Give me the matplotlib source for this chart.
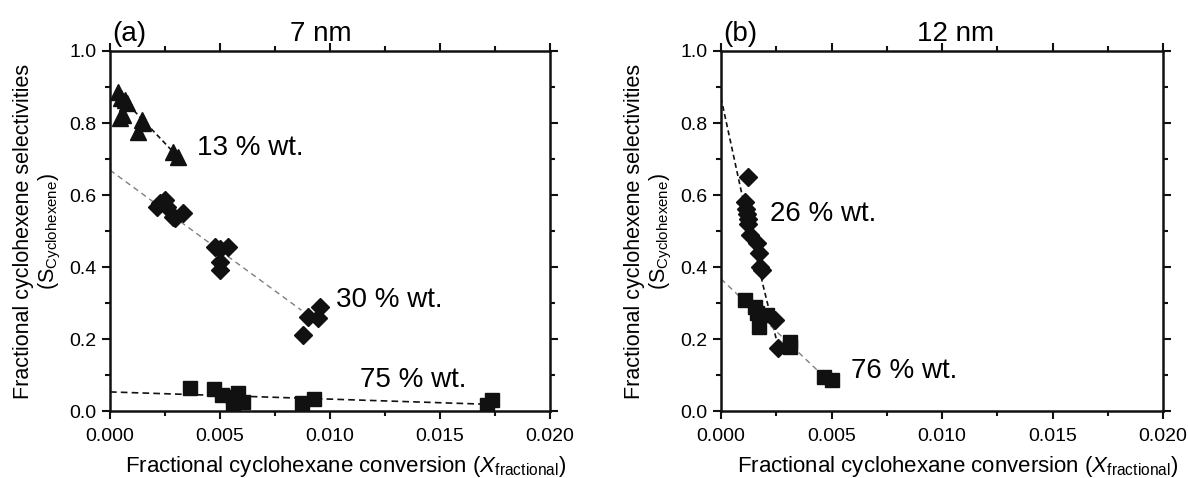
import matplotlib
matplotlib.use('Agg')
import matplotlib.pyplot as plt
from matplotlib.ticker import MultipleLocator

plt.rcParams['font.family'] = ['Liberation Sans', 'DejaVu Sans']
plt.rcParams['mathtext.fontset'] = 'custom'
plt.rcParams['mathtext.rm'] = 'Liberation Sans'
plt.rcParams['mathtext.it'] = 'Liberation Sans:italic'

# ---- panel (a), 7 nm ----
a13_x = [0.00038, 0.00050, 0.00068, 0.00076, 0.00060, 0.00045, 0.00144, 0.00150, 0.00129, 0.00288, 0.00310]
a13_y = [0.887, 0.870, 0.864, 0.855, 0.822, 0.815, 0.808, 0.800, 0.776, 0.720, 0.706]
a30_x = [0.00212, 0.00227, 0.00250, 0.00258, 0.00288, 0.00295, 0.00333, 0.00477, 0.00500, 0.00538, 0.00500, 0.00500,
         0.00879, 0.00902, 0.00947, 0.00955]
a30_y = [0.567, 0.577, 0.585, 0.567, 0.540, 0.535, 0.549, 0.456, 0.450, 0.456, 0.415, 0.392,
         0.211, 0.262, 0.258, 0.290]
a75_x = [0.00364, 0.00473, 0.00508, 0.00560, 0.00583, 0.00606, 0.00560, 0.00871, 0.00927, 0.01735, 0.01715]
a75_y = [0.063, 0.060, 0.044, 0.023, 0.049, 0.026, 0.040, 0.021, 0.032, 0.031, 0.017]
a13_fit_x = [0.0003, 0.0031]
a13_fit_y = [0.885, 0.705]
a30_fit_x = [0.0, 0.0087]
a30_fit_y = [0.669, 0.280]
a75_fit_x = [0.0, 0.0170]
a75_fit_y = [0.053, 0.019]

# ---- panel (b), 12 nm ----
b26_x = [0.00124, 0.00109, 0.00115, 0.00118, 0.00122, 0.00120, 0.00132, 0.00162, 0.00173, 0.00177, 0.00185,
         0.00245, 0.00256]
b26_y = [0.651, 0.581, 0.560, 0.548, 0.532, 0.520, 0.489, 0.466, 0.438, 0.401, 0.392, 0.253, 0.174]
b76_x = [0.00109, 0.00155, 0.00162, 0.00170, 0.00208, 0.00314, 0.00314, 0.00465, 0.00503]
b76_y = [0.308, 0.290, 0.271, 0.234, 0.267, 0.193, 0.179, 0.095, 0.086]
b26_fit_x = [0.0, 0.0009, 0.0019, 0.0026]
b26_fit_y = [0.870, 0.615, 0.350, 0.175]
b76_fit_x = [0.0, 0.0045]
b76_fit_y = [0.367, 0.105]

fig = plt.figure(figsize=(11.88, 4.78), dpi=100)
ax1 = fig.add_axes([110 / 1188, 67 / 478, 440 / 1188, 360 / 478])
ax2 = fig.add_axes([721 / 1188, 67 / 478, 442 / 1188, 360 / 478])

blk = '#111111'
gry = '#808080'

ax1.plot(a13_fit_x, a13_fit_y, ls=(0, (3, 2)), color=blk, lw=1.2)
ax1.plot(a30_fit_x, a30_fit_y, ls=(0, (4, 3)), color=gry, lw=1.0)
ax1.plot(a75_fit_x, a75_fit_y, ls=(0, (4, 2.5)), color=blk, lw=1.2)
ax1.plot(a13_x, a13_y, '^', color=blk, ms=11, mec=blk)
ax1.plot(a30_x, a30_y, 'D', color=blk, ms=9.5, mec=blk)
ax1.plot(a75_x, a75_y, 's', color=blk, ms=9.5, mec=blk)
ax1.text(0.00395, 0.73, '13 % wt.', fontsize=20, va='center')
ax1.text(0.01027, 0.308, '30 % wt.', fontsize=20, va='center')
ax1.text(0.01136, 0.086, '75 % wt.', fontsize=20, va='center')
ax1.text(0.004, 1.01, '(a)', fontsize=20, transform=ax1.transAxes, va='bottom')
ax1.text(0.48, 1.01, '7 nm', fontsize=20, transform=ax1.transAxes, va='bottom', ha='center')

ax2.plot(b26_fit_x, b26_fit_y, ls=(0, (3, 2)), color=blk, lw=1.2)
ax2.plot(b76_fit_x, b76_fit_y, ls=(0, (4, 3)), color=gry, lw=1.0)
ax2.plot(b26_x, b26_y, 'D', color=blk, ms=9.5, mec=blk)
ax2.plot(b76_x, b76_y, 's', color=blk, ms=9.5, mec=blk)
ax2.text(0.00223, 0.547, '26 % wt.', fontsize=20, va='center')
ax2.text(0.00586, 0.111, '76 % wt.', fontsize=20, va='center')
ax2.text(0.004, 1.01, '(b)', fontsize=20, transform=ax2.transAxes, va='bottom')
ax2.text(0.53, 1.01, '12 nm', fontsize=20, transform=ax2.transAxes, va='bottom', ha='center')

for ax in (ax1, ax2):
    ax.set_xlim(0, 0.020)
    ax.set_ylim(0, 1.0)
    ax.xaxis.set_major_locator(MultipleLocator(0.005))
    ax.xaxis.set_minor_locator(MultipleLocator(0.0025))
    ax.yaxis.set_major_locator(MultipleLocator(0.2))
    ax.yaxis.set_minor_locator(MultipleLocator(0.1))
    ax.xaxis.set_major_formatter(plt.FuncFormatter(lambda v, p: '%.3f' % v))
    ax.yaxis.set_major_formatter(plt.FuncFormatter(lambda v, p: '%.1f' % v))
    ax.tick_params(which='both', direction='out', top=True, right=True, width=1.5, labelsize=14, color=blk)
    ax.tick_params(which='major', length=6)
    ax.tick_params(which='minor', length=3.5)
    ax.tick_params(axis='x', which='major', pad=6)
    for s in ax.spines.values():
        s.set_linewidth(1.8)
        s.set_color(blk)
    ax.set_xlabel(r'Fractional cyclohexane conversion ($X_{\mathrm{fractional}}$)', fontsize=16)
    ax.xaxis.set_label_coords(0.535, -0.12)
    ax.set_ylabel('Fractional cyclohexene selectivities\n' + r'($\mathrm{S}_{\mathrm{Cyclohexene}}$)',
                  fontsize=15.5, labelpad=5, linespacing=1.15)

fig.savefig('out.png', dpi=100)
